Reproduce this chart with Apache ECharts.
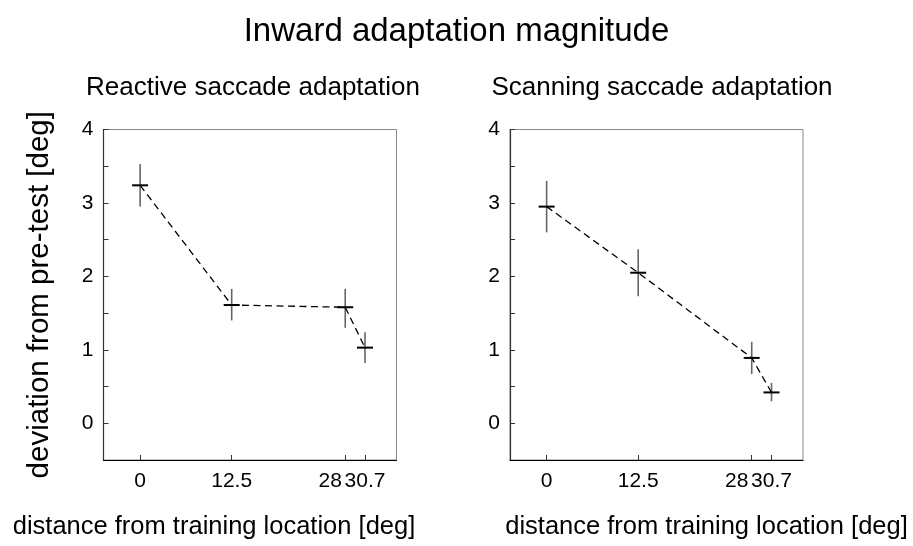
<!DOCTYPE html>
<html>
<head>
<meta charset="utf-8">
<script src="https://cdn.jsdelivr.net/npm/echarts@6/dist/echarts.min.js"></script>
<style>html,body{margin:0;padding:0;background:#fff}#chart{width:913px;height:546px}</style>
</head>
<body>
<div id="chart"></div>
<script>
// ---- data ----
const xPositions = [0, 12.5, 28, 30.7];
const xTickLabels = ['0', '12.5', '28', '30.7'];
const yTickLabels = [0, 1, 2, 3, 4];
const yTickMarks = [0, 0.5, 1, 1.5, 2, 2.5, 3, 3.5, 4];

const reactiveMean = [3.24, 1.61, 1.58, 1.03];
const reactiveLow  = [2.95, 1.40, 1.30, 0.82];
const reactiveHigh = [3.53, 1.83, 1.83, 1.24];

const scanningMean = [2.95, 2.05, 0.89, 0.42];
const scanningLow  = [2.60, 1.73, 0.67, 0.30];
const scanningHigh = [3.30, 2.37, 1.11, 0.55];

const titleText = 'Inward adaptation magnitude';
const panelTitles = ['Reactive saccade adaptation', 'Scanning saccade adaptation'];
const xName = 'distance from training location [deg]';
const yName = 'deviation from pre-test [deg]';

// ---- chart ----
const FONT = '"Liberation Sans", Arial, Helvetica, sans-serif';
const chart = echarts.init(document.getElementById('chart'), null, {renderer: 'canvas'});

function errData(mean, lo, hi) {
  return xPositions.map((x, i) => [x, mean[i], lo[i], hi[i]]);
}
function lineData(mean) {
  return xPositions.map((x, i) => [x, mean[i]]);
}
function labelFor(v) {
  const i = xPositions.indexOf(v);
  return i >= 0 ? xTickLabels[i] : String(v);
}
function renderCross(params, api) {
  const x = api.value(0);
  const c = api.coord([x, api.value(1)]);
  const lo = api.coord([x, api.value(2)]);
  const hi = api.coord([x, api.value(3)]);
  const half = 8;
  return {
    type: 'group',
    children: [
      {type: 'line', shape: {x1: lo[0], y1: lo[1], x2: hi[0], y2: hi[1]},
       style: {stroke: '#666', lineWidth: 1.6}},
      {type: 'line', shape: {x1: c[0] - half, y1: c[1], x2: c[0] + half, y2: c[1]},
       style: {stroke: '#000', lineWidth: 2}}
    ]
  };
}

const grids = [
  {left: 103.5, top: 129.5, width: 293, height: 330.5, show: true, borderColor: '#888', borderWidth: 1},
  {left: 510, top: 129.5, width: 293, height: 330.5, show: true, borderColor: '#888', borderWidth: 1}
];

const xNamePadding = [[0, 72, 0, 0], [0, 0, 0, 100]];

// main x axis: line, ticks, labels 0 / 12.5 / 28 (28 shifted left to leave room for 30.7)
function makeX(gi) {
  return {
    type: 'value', gridIndex: gi, min: -5, max: 35, position: 'bottom',
    name: xName, nameLocation: 'middle', nameGap: 54,
    nameTextStyle: {fontFamily: FONT, fontSize: 25.5, color: '#000', padding: xNamePadding[gi]},
    axisLine: {show: true, onZero: false, lineStyle: {color: '#000', width: 1.2}},
    axisTick: {show: true, inside: true, length: 5, customValues: xPositions, lineStyle: {color: '#333'}},
    axisLabel: {
      customValues: xPositions.slice(0, 3), margin: 11, color: '#000', fontFamily: FONT, fontSize: 21,
      formatter: function (v) {
        const t = labelFor(v);
        return v === xPositions[2] ? '{l|' + t + '}' : '{n|' + t + '}';
      },
      rich: {
        l: {fontFamily: FONT, fontSize: 21, color: '#000', padding: [0, 30, 0, 0]},
        n: {fontFamily: FONT, fontSize: 21, color: '#000'}
      }
    },
    splitLine: {show: false}
  };
}
// overlay x axis carrying only the last tick label (30.7)
function makeX2(gi) {
  return {
    type: 'value', gridIndex: gi, min: -5, max: 35, position: 'bottom', offset: 0,
    axisLine: {show: false, onZero: false},
    axisTick: {show: false},
    axisLabel: {
      customValues: xPositions.slice(3), margin: 11, color: '#000', fontFamily: FONT, fontSize: 21,
      formatter: labelFor
    },
    splitLine: {show: false}
  };
}
function makeY(gi) {
  const y = {
    type: 'value', gridIndex: gi, min: -0.5, max: 4,
    axisLine: {show: true, onZero: false, lineStyle: {color: '#333', width: 1.2}},
    axisTick: {show: true, inside: true, length: 5, customValues: yTickMarks, lineStyle: {color: '#333'}},
    axisLabel: {customValues: yTickLabels, margin: 10, color: '#000', fontFamily: FONT, fontSize: 21},
    splitLine: {show: false}
  };
  if (gi === 0) {
    y.name = yName;
    y.nameLocation = 'middle';
    y.nameGap = 49;
    y.nameTextStyle = {fontFamily: FONT, fontSize: 29.5, color: '#000'};
  }
  return y;
}

const series = [];
[[reactiveMean, reactiveLow, reactiveHigh], [scanningMean, scanningLow, scanningHigh]].forEach((d, gi) => {
  series.push({
    type: 'line', xAxisIndex: gi, yAxisIndex: gi, data: lineData(d[0]),
    symbol: 'none', silent: true,
    lineStyle: {color: '#000', width: 1.3, type: [7, 4.5]}
  });
  series.push({
    type: 'custom', xAxisIndex: gi, yAxisIndex: gi, data: errData(d[0], d[1], d[2]),
    renderItem: renderCross, encode: {x: 0, y: 1}, clip: false, silent: true, z: 3
  });
});

chart.setOption({
  backgroundColor: '#fff',
  animation: false,
  title: [
    {text: titleText, left: 'center', top: 10, textStyle: {fontFamily: FONT, fontSize: 33, fontWeight: 'normal', color: '#000'}},
    {text: panelTitles[0], left: 248, top: 70, textAlign: 'center', textStyle: {fontFamily: FONT, fontSize: 26, fontWeight: 'normal', color: '#000'}},
    {text: panelTitles[1], left: 657, top: 70, textAlign: 'center', textStyle: {fontFamily: FONT, fontSize: 26, fontWeight: 'normal', color: '#000'}}
  ],
  grid: grids,
  xAxis: [makeX(0), makeX(1), makeX2(0), makeX2(1)],
  yAxis: [makeY(0), makeY(1)],
  series: series
});
</script>
</body>
</html>
